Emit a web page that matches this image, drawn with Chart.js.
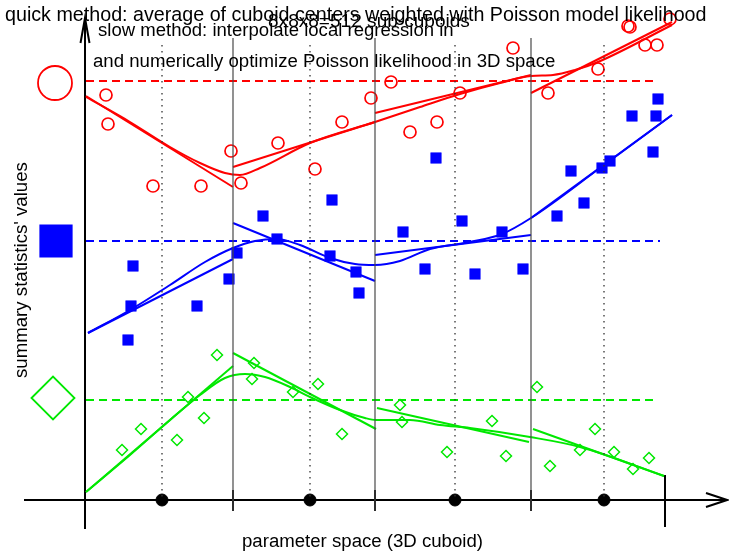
<!DOCTYPE html>
<html>
<head>
<meta charset="utf-8">
<script src="https://cdn.jsdelivr.net/npm/chart.js@4/dist/chart.umd.min.js"></script>
<style>
  html, body { margin: 0; padding: 0; background: #ffffff; }
  #wrap { width: 729px; height: 555px; }
</style>
</head>
<body>
<div id="wrap"><canvas id="c" width="729" height="555"></canvas></div>
<script>
// ---------------- data (chart units: x = position in parameter space, y = summary value, axis drawn downward) -------------
const segmentBounds = [86, 233, 375, 531, 665];      // sub-cuboid boundaries
const segmentCenters = [162, 310, 455, 604];        // sub-cuboid centers (black dots)

// red statistic (open circles)
const redX = [106,108,153,201,231,241,278,315,342,371,391,410,437,460,513,548,598,628,630,645,657,670];
const redY = [95,124,186,186,151,183,143,169,122,98,82,132,122,93,48,93,69,26,27,45,45,19];
const redQuick = 81;
const redLocalX = [[86,233],[233,375],[375,531],[531,672]];
const redLocalY = [[96,187],[167,122],[113,75],[93,22]];
const redSmoothX = [86,130,170,200,225,240,260,310,375,420,460,500,531,553,575,598,672];
const redSmoothY = [97,122,147,163,173,175,168,143,122,107,94,83,76,75,70,62,25];

// blue statistic (filled squares)
const blueX = [133,131,128,197,229,237,263,277,332,330,356,359,403,425,436,462,475,502,523,557,571,584,602,610,632,653,656,658];
const blueY = [266,306,340,306,279,253,216,239,200,256,272,293,232,269,158,221,274,232,269,216,171,203,168,161,116,152,116,99];
const blueQuick = 241;
const blueLocalX = [[88,233],[233,375],[375,531],[531,672]];
const blueLocalY = [[333,259],[223,281],[255,235],[218,115]];
const blueSmoothX = [88,130,170,205,233,255,277,300,330,355,375,400,430,470,502,531,600,672];
const blueSmoothY = [333,310,285,262,248,241,239,245,258,264,265,261,249,242,234,218,168,115];

// green statistic (open diamonds)
const greenX = [122,141,177,188,204,217,254,252,293,318,342,400,402,447,492,506,537,550,580,595,614,633,649];
const greenY = [450,429,440,397,418,355,363,379,392,384,434,405,422,452,421,456,387,466,450,429,452,469,458];
const greenQuick = 400;
const greenLocalX = [[86,233],[233,376],[377,529],[533,664]];
const greenLocalY = [[492,366],[353,429],[408,442],[429,476]];
const greenSmoothX = [86,130,170,200,225,245,265,290,310,340,365,376,390,410,440,470,530,580,664];
const greenSmoothY = [492,455,420,395,378,374,377,387,397,410,418,420,420,420,425,428,437,447,476];

// texts
const titleQuick = 'quick method: average of cuboid centers weighted with Poisson model likelihood';
const titleGrid = '8x8x8=512 sub-cuboids';
const titleSlow1 = 'slow method: interpolate local regression in';
const titleSlow2 = 'and numerically optimize Poisson likelihood in 3D space';
const xTitle = 'parameter space (3D cuboid)';
const yTitle = "summary statistics' values";

// ---------------- styles / layout ----------------
const RED = '#ff0000', BLUE = '#0000ff', GREEN = '#00e800', BLACK = '#000000', GREY = '#4a4a4a';
const layout = {
  plotTop: 38, dotTop: 45, axisY: 500, axisLeft: 24, axisRight: 727, yAxisX: 85, yAxisBottom: 529, yAxisTop: 18,
  quickEnd: {red: 655, blue: 660, green: 657},
  legendX: 55, legendY: {red: 83, blue: 241, green: 398}
};
const FONT = '"Liberation Sans", Arial, Helvetica, sans-serif';

const pts = (xs, ys) => xs.map((x, i) => ({x, y: ys[i]}));
const seg = (a, b) => [{x: a[0], y: a[1]}, {x: b[0], y: b[1]}];
const datasets = [];
function lineDs(data, color, width, extra) {
  datasets.push(Object.assign({type: 'line', data, borderColor: color, borderWidth: width, pointRadius: 0,
    fill: false, tension: 0, showLine: true}, extra || {}));
}

// vertical solid sub-cuboid borders
segmentBounds.slice(1, 4).forEach(x => lineDs(seg([x, layout.plotTop], [x, 511]), GREY, 1.2));
// dotted center lines
segmentCenters.forEach(x => lineDs(seg([x, layout.dotTop], [x, layout.axisY]), '#333333', 1.3, {borderDash: [1.4, 4.6]}));
// quick method dashed lines
lineDs(seg([86, redQuick], [layout.quickEnd.red, redQuick]), RED, 2, {borderDash: [8, 5]});
lineDs(seg([86, blueQuick], [layout.quickEnd.blue, blueQuick]), BLUE, 2, {borderDash: [8, 5]});
lineDs(seg([86, greenQuick], [layout.quickEnd.green, greenQuick]), GREEN, 2, {borderDash: [8, 5]});
// local regressions (straight per sub-cuboid) + smooth curves
[[redLocalX, redLocalY, RED], [blueLocalX, blueLocalY, BLUE], [greenLocalX, greenLocalY, GREEN]].forEach(([lx, ly, c]) => {
  lx.forEach((xx, i) => lineDs(pts(xx, ly[i]), c, 2));
});
lineDs(pts(redSmoothX, redSmoothY), RED, 2, {tension: 0.4, cubicInterpolationMode: 'monotone'});
lineDs(pts(blueSmoothX, blueSmoothY), BLUE, 2, {tension: 0.4, cubicInterpolationMode: 'monotone'});
lineDs(pts(greenSmoothX, greenSmoothY), GREEN, 2, {tension: 0.4, cubicInterpolationMode: 'monotone'});
// axes
lineDs(seg([layout.axisLeft, layout.axisY], [layout.axisRight, layout.axisY]), BLACK, 2);
lineDs([{x: 706, y: 493}, {x: layout.axisRight, y: layout.axisY}, {x: 706, y: 507}], BLACK, 2);
lineDs(seg([layout.yAxisX, layout.yAxisBottom], [layout.yAxisX, layout.yAxisTop]), BLACK, 2);
lineDs([{x: 80.5, y: 43}, {x: layout.yAxisX, y: layout.yAxisTop}, {x: 89.5, y: 43}], BLACK, 2);
segmentBounds.slice(1, 4).forEach(x => lineDs(seg([x, 490], [x, 511]), BLACK, 2));
lineDs(seg([segmentBounds[4], 475], [segmentBounds[4], 527]), BLACK, 2);
// center dots
datasets.push({type: 'scatter', data: segmentCenters.map(x => ({x, y: layout.axisY})), pointRadius: 6,
  pointBackgroundColor: BLACK, pointBorderColor: BLACK, showLine: false});
// scatter points
datasets.push({type: 'scatter', data: pts(redX, redY), pointStyle: 'circle', pointRadius: 6, borderWidth: 1.7,
  pointBorderColor: RED, pointBackgroundColor: 'rgba(0,0,0,0)', showLine: false});
datasets.push({type: 'scatter', data: pts(blueX, blueY), pointStyle: 'rect', pointRadius: 7.5, borderWidth: 0.5,
  pointBorderColor: BLUE, pointBackgroundColor: BLUE, showLine: false});
datasets.push({type: 'scatter', data: pts(greenX, greenY), pointStyle: 'rectRot', pointRadius: 5.5, borderWidth: 1.5,
  pointBorderColor: GREEN, pointBackgroundColor: 'rgba(0,0,0,0)', showLine: false});
// legend symbols
datasets.push({type: 'scatter', data: [{x: layout.legendX, y: layout.legendY.red}], pointStyle: 'circle', pointRadius: 17,
  borderWidth: 1.8, pointBorderColor: RED, pointBackgroundColor: 'rgba(0,0,0,0)'});
datasets.push({type: 'scatter', data: [{x: 56, y: layout.legendY.blue}], pointStyle: 'rect', pointRadius: 23.5,
  borderWidth: 0, pointBorderColor: BLUE, pointBackgroundColor: BLUE});
datasets.push({type: 'scatter', data: [{x: 53, y: layout.legendY.green}], pointStyle: 'rectRot', pointRadius: 21.5,
  borderWidth: 1.8, pointBorderColor: GREEN, pointBackgroundColor: 'rgba(0,0,0,0)'});

const textItems = [
  {t: titleQuick, x: 5, y: 21, w: 702},
  {t: titleGrid, x: 268, y: 27, w: 202},
  {t: titleSlow1, x: 98, y: 36, w: 356},
  {t: titleSlow2, x: 93, y: 67, w: 463},
  {t: xTitle, x: 242, y: 547, w: 241},
  {t: yTitle, x: 27, y: 378, w: 216, rot: true}
];

const textPlugin = {
  id: 'texts',
  afterDatasetsDraw(chart) {
    const ctx = chart.ctx, sx = chart.scales.x, sy = chart.scales.y;
    ctx.save();
    ctx.fillStyle = '#000';
    ctx.textBaseline = 'alphabetic';
    ctx.textAlign = 'left';
    textItems.forEach(it => {
      ctx.font = '17px ' + FONT;
      const m = ctx.measureText(it.t).width;
      const size = 17 * it.w / m;
      ctx.font = size.toFixed(2) + 'px ' + FONT;
      const px = sx.getPixelForValue(it.x), py = sy.getPixelForValue(it.y);
      if (it.rot) {
        ctx.save();
        ctx.translate(px, py);
        ctx.rotate(-Math.PI / 2);
        ctx.fillText(it.t, 0, 0);
        ctx.restore();
      } else {
        ctx.fillText(it.t, px, py);
      }
    });
    ctx.restore();
  }
};

new Chart(document.getElementById('c'), {
  type: 'scatter',
  data: {datasets},
  options: {
    responsive: false, animation: false, events: [],
    layout: {padding: 0, autoPadding: false},
    plugins: {legend: {display: false}, tooltip: {enabled: false}, title: {display: false}},
    scales: {
      x: {type: 'linear', min: 0, max: 729, display: false},
      y: {type: 'linear', min: 0, max: 555, reverse: true, display: false}
    },
    elements: {line: {capBezierPoints: true}}
  },
  plugins: [textPlugin]
});
</script>
</body>
</html>
